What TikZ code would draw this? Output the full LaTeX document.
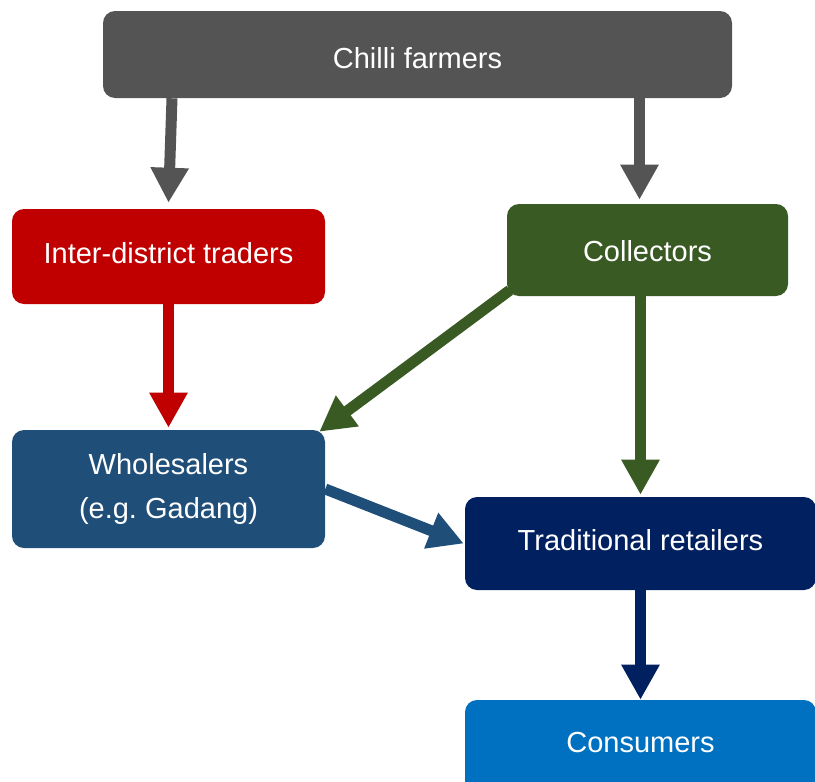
\documentclass[tikz,border=0pt]{standalone}
\usepackage{fontspec}
\setmainfont{Liberation Sans}
\usetikzlibrary{arrows.meta,calc,backgrounds}
\definecolor{farmgray}{HTML}{545454}
\definecolor{traderred}{HTML}{C00000}
\definecolor{collgreen}{HTML}{3A5A24}
\definecolor{wholeblue}{HTML}{1F4E79}
\definecolor{retailnavy}{HTML}{002060}
\definecolor{consblue}{HTML}{0070C0}
\begin{document}
\begin{tikzpicture}[x=0.75pt,y=-0.75pt,
  actor/.style={draw=none, fill=#1, rounded corners=9pt, inner sep=0pt,
    text=white, align=center, font=\fontsize{21.75pt}{33pt}\selectfont},
  % text height/depth place the capitals slightly off the box centre
  lower/.style={text height=#1, text depth=0pt},
  raise/.style={text height=15.6pt, text depth=#1},
  flow/.style={draw=#1, line width=8.25pt,
    -{Triangle[width=27pt,length=26.25pt]}},
]
\useasboundingbox (0,0) rectangle (815,782);

% actors in the supply chain
\node[actor=farmgray, lower=20.8pt, minimum width=629*0.75pt, minimum height=87*0.75pt]
  (farmers) at (417.5,54.5) {Chilli farmers};
\node[actor=traderred, raise=5.2pt, minimum width=313*0.75pt, minimum height=95*0.75pt]
  (traders) at (168.5,256.5) {Inter-district traders};
\node[actor=collgreen, lower=17.1pt, minimum width=281*0.75pt, minimum height=92*0.75pt]
  (collectors) at (647.5,250) {Collectors};
\node[actor=wholeblue, minimum width=313*0.75pt, minimum height=118*0.75pt]
  (wholesalers) at (168.5,489) {Wholesalers\\(e.g.\ Gadang)};
\node[actor=retailnavy, raise=4.5pt, minimum width=351*0.75pt, minimum height=93*0.75pt]
  (retailers) at (640.5,543.5) {Traditional retailers};
\node[actor=consblue, raise=6.7pt, minimum width=351*0.75pt, minimum height=93*0.75pt]
  (consumers) at (640.5,746.5) {Consumers};

% product flows
\begin{scope}[on background layer]
  \draw[flow=farmgray] ($(farmers.south -| traders.north)+(3.5,0)$)
    -- ($(traders.north)+(0,-6)$);
  \draw[flow=farmgray] ($(farmers.south -| collectors.north)+(-8,0)$)
    -- ($(collectors.north)+(-8,-4)$);
  \draw[flow=traderred] (traders.south) -- ($(wholesalers.north)+(0,-2)$);
  \draw[flow=collgreen] ($(collectors.south west)+(3,-6)$)
    -- ($(wholesalers.north east)+(-6,2)$);
  \draw[flow=collgreen] (collectors.south -| retailers.north)
    -- ($(retailers.north)+(0,-2)$);
  \draw[flow=wholeblue] (wholesalers.east) -- ($(retailers.west)+(-1,0)$);
  \draw[flow=retailnavy] (retailers.south) -- (consumers.north);
\end{scope}
\end{tikzpicture}
\end{document}
